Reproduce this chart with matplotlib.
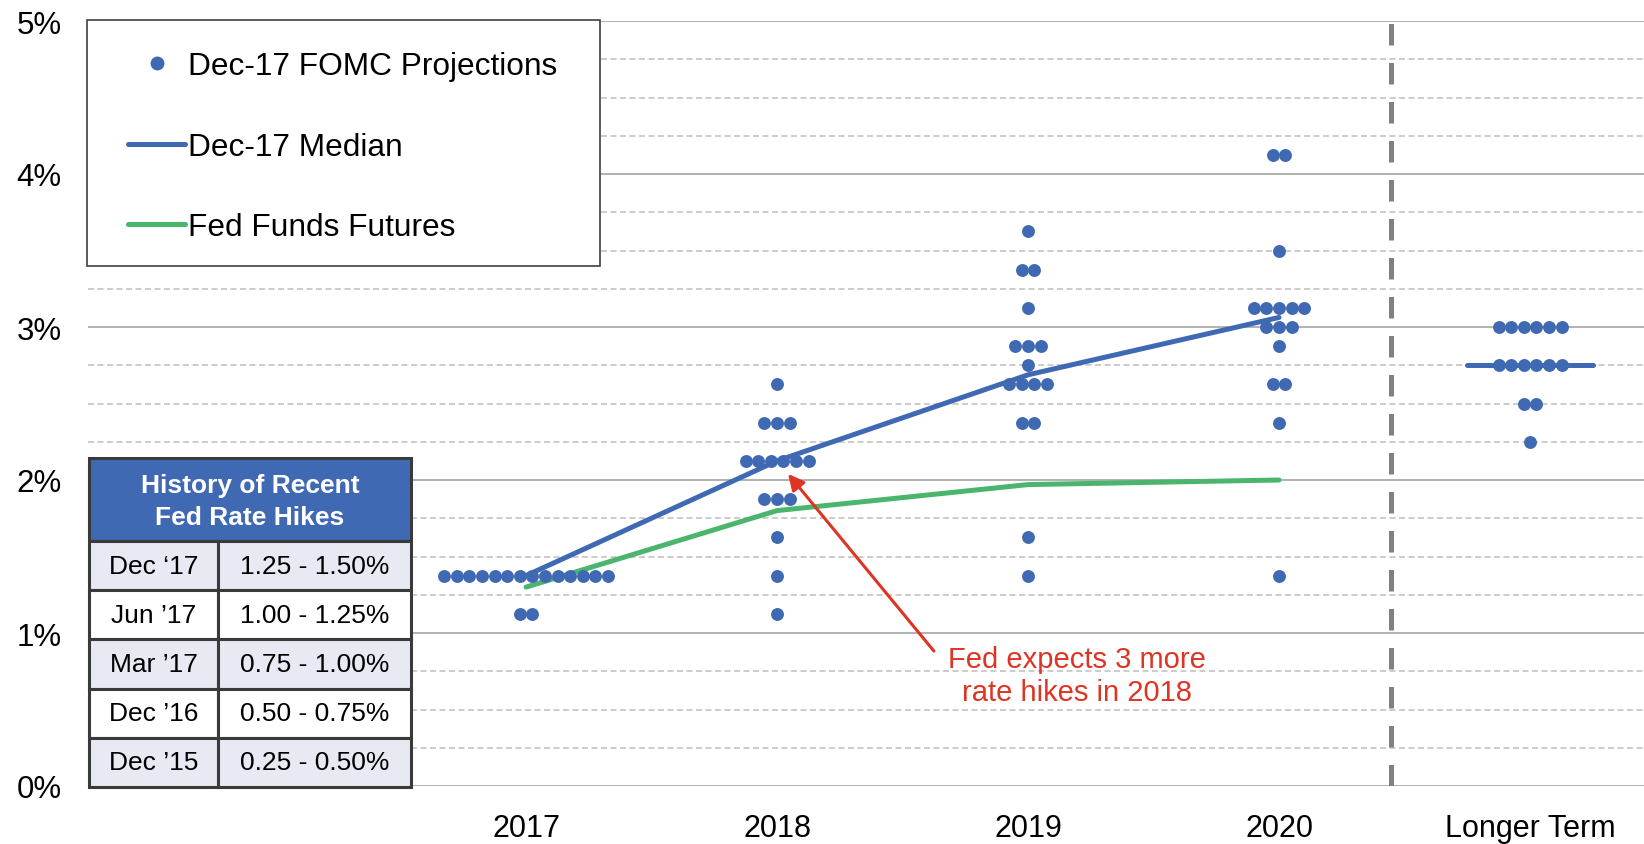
import matplotlib.pyplot as plt
from matplotlib.lines import Line2D
from matplotlib.patches import Rectangle
import numpy as np

plt.rcParams['font.family'] = ['Liberation Sans', 'DejaVu Sans']

# columns of the dot plot
categories = ['2017', '2018', '2019', '2020', 'Longer Term']

# (rate %, number of participants) for each column
dots_2017 = [(1.375, 14), (1.125, 2)]
dots_2018 = [(2.625, 1), (2.375, 3), (2.125, 6), (1.875, 3), (1.625, 1),
             (1.375, 1), (1.125, 1)]
dots_2019 = [(3.625, 1), (3.375, 2), (3.125, 1), (2.875, 3), (2.75, 1),
             (2.625, 4), (2.375, 2), (1.625, 1), (1.375, 1)]
dots_2020 = [(4.125, 2), (3.5, 1), (3.125, 5), (3.0, 3), (2.875, 1),
             (2.625, 2), (2.375, 1), (1.375, 1)]
dots_longer = [(3.0, 6), (2.75, 6), (2.5, 2), (2.25, 1)]

median_rates = [1.375, 2.125, 2.6875, 3.0625]
median_longer = 2.75
futures_rates = [1.30, 1.80, 1.97, 2.00]

hike_dates = ['Dec \u201817', 'Jun \u201917', 'Mar \u201917', 'Dec \u201916', 'Dec \u201915']
hike_ranges = ['1.25 - 1.50%', '1.00 - 1.25%', '0.75 - 1.00%',
               '0.50 - 0.75%', '0.25 - 0.50%']

BLUE = '#4069B4'
GREEN = '#4BB56E'
RED = '#DF3423'
W, H = 1644, 845

fig = plt.figure(figsize=(W / 100, H / 100), dpi=100)
ax = fig.add_axes([88 / W, 1 - 787 / H, 1 - 88 / W, 765 / H])
ax.set_xlim(-1.745, 4.454)
ax.set_ylim(0, 5)

# gridlines
for y in np.arange(0.25, 5.0, 0.25):
    if y % 1 != 0:
        ax.axhline(y, color='#C4C4C4', lw=1.2, ls=(0, (3.6, 2.1)), zorder=0)
for y in range(0, 6):
    ax.axhline(y, color='#ABABAB', lw=1.3, zorder=0)

# separator before longer term
ax.axvline(3.446, color='#808080', lw=3.6, ls=(0, (4.3, 3.5)), zorder=1)

# dots
step = 0.0502
columns = [dots_2017, dots_2018, dots_2019, dots_2020, dots_longer]
for col, rows in enumerate(columns):
    for rate, n in rows:
        xs = col + (np.arange(n) - (n - 1) / 2) * step
        ax.plot(xs, [rate] * n, 'o', color=BLUE, ms=9.3, mew=0, zorder=3)

# lines
ax.plot(range(len(futures_rates)), futures_rates, color=GREEN, lw=3.6,
        solid_capstyle='round', zorder=2)
ax.plot(range(len(median_rates)), median_rates, color=BLUE, lw=3.6,
        solid_capstyle='round', zorder=4)
ax.plot([3.75, 4.25], [median_longer, median_longer], color=BLUE, lw=3.6,
        solid_capstyle='round', zorder=2)

# annotation
ax.annotate('', xy=(1.044, 2.04), xytext=(1.625, 0.882),
            arrowprops=dict(arrowstyle='-|>', color=RED, lw=2.2,
                            mutation_scale=24, shrinkA=0, shrinkB=0),
            zorder=5)
ax.text(2.195, 0.72, 'Fed expects 3 more\nrate hikes in 2018', color=RED,
        fontsize=21, ha='center', va='center', linespacing=1.22)

ax.set_xticks(range(len(categories)))
ax.set_xticklabels(categories)
ax.set_yticks(range(0, 6))
ax.set_yticklabels([f'{v}%' for v in range(0, 6)])
ax.tick_params(axis='y', length=0, pad=19, labelsize=22.5)
ax.tick_params(axis='x', length=0, pad=19.5, labelsize=22)
for s in ax.spines.values():
    s.set_visible(False)

# legend box
fig.add_artist(Rectangle((87 / W, 1 - 267 / H), 513 / W, 246 / H,
                         transform=fig.transFigure, facecolor='white',
                         edgecolor='#404040', lw=1.2, zorder=2))
handles = [
    Line2D([], [], marker='o', ls='none', color=BLUE, ms=10, mew=0),
    Line2D([], [], color=BLUE, lw=3.6, solid_capstyle='round'),
    Line2D([], [], color=GREEN, lw=3.6, solid_capstyle='round'),
]
labels = ['Dec-17 FOMC Projections', 'Dec-17 Median', 'Fed Funds Futures']
leg = fig.legend(handles, labels, loc='upper left',
                 bbox_to_anchor=(128 / W, 1 - 52 / H),
                 bbox_transform=fig.transFigure, frameon=False,
                 fontsize=22.8, borderpad=0, borderaxespad=0,
                 labelspacing=1.6, handlelength=1.8, handletextpad=0.1)
leg.set_zorder(6)

# table of recent hikes
tax = fig.add_axes([89 / W, 1 - 788 / H, 322 / W, 329 / H])
tax.set_xlim(0, 322)
tax.set_ylim(329, 0)
tax.axis('off')
edge = '#3A3A3A'
tax.add_patch(Rectangle((0, 0), 322, 83, facecolor=BLUE, edgecolor=edge,
                        lw=2.2, clip_on=False))
tax.text(161, 43, 'History of Recent\nFed Rate Hikes', color='white',
         fontsize=19, fontweight='bold', ha='center', va='center',
         linespacing=1.4)
row_h = (329 - 83) / len(hike_dates)
for i, (d, r) in enumerate(zip(hike_dates, hike_ranges)):
    y0 = 83 + i * row_h
    fill = '#E8EAF3' if i % 2 == 0 else 'white'
    tax.add_patch(Rectangle((0, y0), 129, row_h, facecolor=fill,
                            edgecolor=edge, lw=2.2, clip_on=False))
    tax.add_patch(Rectangle((129, y0), 193, row_h, facecolor=fill,
                            edgecolor=edge, lw=2.2, clip_on=False))
    tax.text(64.5, y0 + row_h / 2, d, fontsize=19, ha='center', va='center')
    tax.text(225.5, y0 + row_h / 2, r, fontsize=19, ha='center', va='center')

fig.savefig('out.png', dpi=100)
